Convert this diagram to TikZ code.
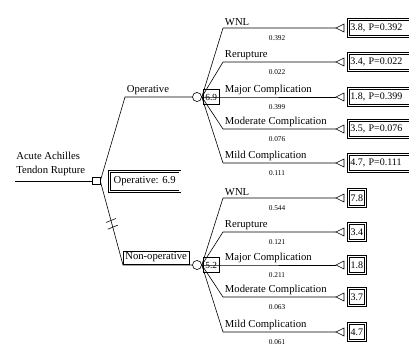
\documentclass[tikz,border=0pt]{standalone}
\usepackage{fontspec}
\setmainfont{Liberation Serif}
\begin{document}
\begin{tikzpicture}[x=0.75pt,y=-0.75pt,line width=0.45pt,
  txt/.style={font=\fontsize{8}{9}\selectfont, inner sep=0.5pt},
  lab/.style={txt, anchor=south west},
  prob/.style={font=\fontsize{5.5}{6}\selectfont, inner sep=0.5pt},
  dbox/.style={draw, double, double distance=0.9pt, inner sep=1.5pt, font=\fontsize{7.5}{8}\selectfont},
  vbox/.style={draw, inner sep=1pt, font=\fontsize{7}{8}\selectfont, minimum width=12pt, minimum height=11pt},
  chance/.style={draw, circle, minimum size=6.8pt, inner sep=0pt},
  decis/.style={draw, rectangle, minimum width=6pt, minimum height=5pt, inner sep=0pt}]
\useasboundingbox (0,0) rectangle (409,346);
\begin{scope}
\clip (0,0) rectangle (409,346);
% root
\node[align=left, anchor=west, font=\fontsize{8}{10.5}\selectfont, inner sep=0pt] (root) at (16,164) {Acute Achilles\\Tendon Rupture};
\node[decis] (dec) at (96,181) {};
\coordinate (rs) at (15,181);
\draw (rs) -- (dec.west);
\node[dbox, anchor=north west, minimum width=53pt, minimum height=15pt, font=\fontsize{8}{9}\selectfont] (opval) at (109,171) {Operative: 6.9};
% operative branch
\coordinate (opk) at (125,97);
\node[chance] (cop) at (197,97) {};
\draw (dec.east) -- (opk) -- (cop.west);
\node[lab] (oplab) at (126,95.5) {Operative};
% non-operative branch
\coordinate (nok) at (123,265);
\node[chance] (cno) at (197,265) {};
\draw (dec.east) -- (nok) -- (cno.west);
\node[draw, txt, anchor=south west, inner sep=1.5pt] (nolab) at (123,264.5) {Non-operative};
\path (dec.east) -- (nok) coordinate[pos=0.47] (sl1) coordinate[pos=0.55] (sl2);
\draw ([shift={(-5,2)}]sl1) -- ([shift={(5,-2)}]sl1);
\draw ([shift={(-5,2)}]sl2) -- ([shift={(5,-2)}]sl2);
% value boxes at chance nodes
\node[vbox, anchor=west] (copv) at (203,97) {6.9};
\node[vbox, anchor=west] (cnov) at (203,265) {5.2};
% operative outcomes
\foreach \y/\n/\p/\v [count=\i] in {28/WNL/0.392/{3.8, P=0.392}, 62/Rerupture/0.022/{3.4, P=0.022}, 97/Major Complication/0.399/{1.8, P=0.399}, 129/Moderate Complication/0.076/{3.5, P=0.076}, 163/Mild Complication/0.111/{4.7, P=0.111}} {
  \coordinate (oa\i) at (223,\y);
  \coordinate (ob\i) at (336,\y);
  \draw (cop.east) -- (oa\i) -- (ob\i);
  \node[lab] (ol\i) at (224,\y-1) {\n};
  \node[prob] (op\i) at (277,\y+10) {\p};
  \draw (ob\i) -- ++(8,-4) -- ++(0,8) -- cycle;
  \node[dbox, anchor=west, minimum height=12.5pt, text width=60pt] (ov\i) at (348,\y) {\v};
}
% non-operative outcomes
\foreach \y/\n/\p/\v [count=\i] in {198/WNL/0.544/7.8, 232/Rerupture/0.121/3.4, 265/Major Complication/0.211/1.8, 297/Moderate Complication/0.063/3.7, 332/Mild Complication/0.061/4.7} {
  \coordinate (na\i) at (223,\y);
  \coordinate (nb\i) at (336,\y);
  \draw (cno.east) -- (na\i) -- (nb\i);
  \node[lab] (nl\i) at (224,\y-1) {\n};
  \node[prob] (np\i) at (277,\y+10) {\p};
  \draw (nb\i) -- ++(8,-4) -- ++(0,8) -- cycle;
  \node[dbox, anchor=west, minimum height=12.5pt, minimum width=13pt] (nv\i) at (348,\y) {\v};
}
\end{scope}
\end{tikzpicture}
\end{document}
